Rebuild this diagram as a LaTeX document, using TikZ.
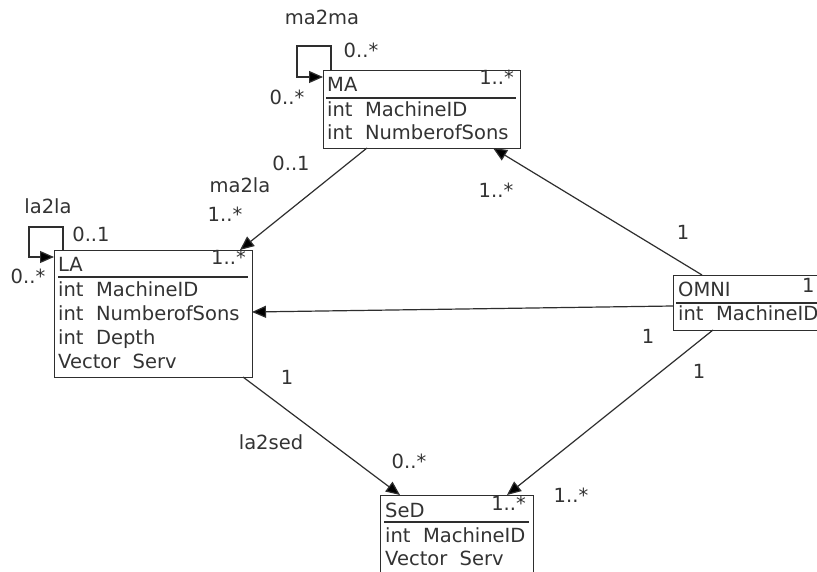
\documentclass[tikz,border=0pt]{standalone}
\usepackage{fontspec}
\setmainfont{DejaVu Sans}
\usetikzlibrary{arrows.meta,calc}
\definecolor{ink}{HTML}{2E2E2E}
\definecolor{txt}{HTML}{333333}
\begin{document}
\begin{tikzpicture}[x=1pt,y=-1pt,
  font=\fontsize{19.5}{23}\selectfont,
  classbox/.style={draw=ink,line width=1.4pt,fill=white,inner sep=0pt,anchor=north west},
  line/.style={text=txt,anchor=base west,inner sep=0pt},
  multin/.style={text=txt,anchor=base east,inner sep=0pt},
  lbl/.style={text=txt,anchor=center,inner sep=0pt},
  uline/.style={draw=ink,line width=1.2pt},
  assoc/.style={draw=ink,line width=1.2pt,-{Triangle[length=14pt,width=12pt,fill=black]}},
  plain/.style={draw=ink,line width=1.2pt}]
\useasboundingbox (0,0) rectangle (817,572);
\fill[white] (0,0) rectangle (817,572);

% ---------- boxes ----------
\node[classbox,minimum width=197pt,minimum height=78pt] (ma) at (323,70) {};
\node[classbox,minimum width=198pt,minimum height=127pt] (la) at (54,250) {};
\node[classbox,minimum width=170pt,minimum height=55pt] (omni) at (673,275) {};
\node[classbox,minimum width=153pt,minimum height=110pt] (sed) at (380,495) {};

% ---------- MA ----------
\node[line] (maT) at (327,92) {MA};
\draw[uline] (326,98) -- (516,98);
\node[line] (maA1) at (327,117) {int\ \ MachineID};
\node[line] (maA2) at (327,140) {int\ \ NumberofSons};
\node[multin] (maM) at (514,85) {1..*};

% ---------- LA ----------
\node[line] (laT) at (58,272) {LA};
\draw[uline] (58,277) -- (248,277);
\node[line] (laA1) at (58,296) {int\ \ MachineID};
\node[line] (laA2) at (58,320) {int\ \ NumberofSons};
\node[line] (laA3) at (58,344) {int\ \ Depth};
\node[line] (laA4) at (58,368) {Vector\ \ Serv};
\node[multin] (laM) at (246,265) {1..*};

% ---------- OMNI ----------
\node[line] (omT) at (678,297) {OMNI};
\draw[uline] (676,303) -- (840,303);
\node[line] (omA1) at (678,320) {int\ \ MachineID};
\node[line] (omM) at (802,292) {1};

% ---------- SeD ----------
\node[line] (seT) at (385,517) {SeD};
\draw[uline] (384,522) -- (529,522);
\node[line] (seA1) at (385,542) {int\ \ MachineID};
\node[line] (seA2) at (385,565) {Vector\ \ Serv};
\node[multin] (seM) at (526,510) {1..*};

% ---------- connector end points ----------
\coordinate (maS1) at (367,148);
\coordinate (maS2) at (493,148);
\coordinate (laN) at (240,250);
\coordinate (laE) at (252,312);
\coordinate (laS) at (243,377);
\coordinate (omN) at (702,275);
\coordinate (omW) at (673,306);
\coordinate (omS) at (713,330);
\coordinate (seN1) at (400,495);
\coordinate (seN2) at (507,495);

% ---------- associations ----------
\draw[assoc] (maS1) -- (laN);
\draw[assoc] (omN) -- (maS2);
\draw[assoc] (omW) -- (laE);
\draw[assoc] (laS) -- (seN1);
\draw[assoc] (omS) -- (seN2);

% self loops
\draw[assoc] ($(ma.north west)+(8,0)$) -- (331,46) -- (297,46) -- (297,77) -- ($(ma.north west)+(0,7)$);
\draw[assoc] ($(la.north west)+(9,0)$) -- (63,227) -- (29,227) -- (29,257) -- ($(la.north west)+(0,7)$);

% ---------- labels ----------
\node[lbl] (l1) at (322,17) {ma2ma};
\node[lbl] (l2) at (361,50) {0..*};
\node[lbl] (l3) at (287,97) {0..*};
\node[lbl] (l4) at (291,163) {0..1};
\node[lbl] (l5) at (240,185) {ma2la};
\node[lbl] (l6) at (225,214) {1..*};
\node[lbl] (l7) at (48,206) {la2la};
\node[lbl] (l8) at (91,234) {0..1};
\node[lbl] (l9) at (28,276) {0..*};
\node[lbl] (l10) at (496,190) {1..*};
\node[lbl] (l11) at (683,232) {1};
\node[lbl] (l12) at (648,336) {1};
\node[lbl] (l13) at (699,371) {1};
\node[lbl] (l14) at (287,377) {1};
\node[lbl] (l15) at (271,442) {la2sed};
\node[lbl] (l16) at (409,461) {0..*};
\node[lbl] (l17) at (571,495) {1..*};
\end{tikzpicture}
\end{document}
